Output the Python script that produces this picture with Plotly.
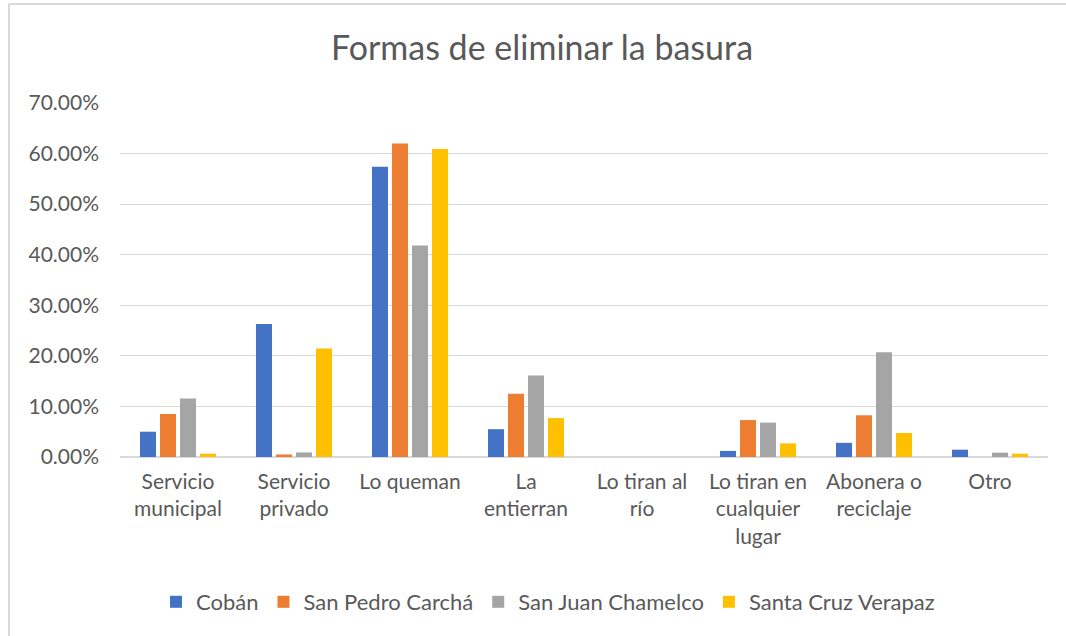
import plotly.graph_objects as go

categories = ["Servicio<br>municipal", "Servicio<br>privado", "Lo queman", "La<br>entierran",
              "Lo tiran al<br>río", "Lo tiran en<br>cualquier<br>lugar", "Abonera o<br>reciclaje", "Otro"]
coban = [0.050, 0.263, 0.574, 0.055, 0.0, 0.012, 0.028, 0.0145]
san_pedro = [0.085, 0.005, 0.620, 0.125, 0.0, 0.073, 0.0825, 0.0]
san_juan = [0.1155, 0.009, 0.418, 0.161, 0.0, 0.068, 0.207, 0.0086]
santa_cruz = [0.0066, 0.2145, 0.609, 0.077, 0.0, 0.027, 0.0475, 0.0066]
series_names = ["Cobán", "San Pedro Carchá", "San Juan Chamelco", "Santa Cruz Verapaz"]
colors = ["#4472C4", "#ED7D31", "#A5A5A5", "#FFC000"]

fig = go.Figure()
for name, vals, c in zip(series_names, [coban, san_pedro, san_juan, santa_cruz], colors):
    fig.add_trace(go.Bar(x=categories, y=vals, name=name, marker=dict(color=c, line=dict(width=0))))

font_fam = "Lato, 'Open Sans', sans-serif"
W, H = 1066, 636
l, r, t, b = 120, 18, 103, 179
pw, ph = W - l - r, H - t - b

bx0 = (9 - l) / pw
bx1 = (W + 40 - l) / pw
by0 = (H - b - (H + 40)) / ph
by1 = (H - b - 4) / ph
border = dict(color="#d9d9d9", width=2)

fig.update_layout(
    width=W, height=H,
    margin=dict(l=l, r=r, t=t, b=b),
    paper_bgcolor="white", plot_bgcolor="white",
    barmode="group", bargap=0.31, bargroupgap=0.2,
    title=dict(text="Formas de eliminar la basura", x=542 / W, xanchor="center",
               y=1 - 48 / H, yanchor="middle",
               font=dict(family=font_fam, size=34, color="#595959")),
    font=dict(family=font_fam, size=21, color="#595959"),
    legend=dict(orientation="h", x=(548 - l) / pw, xanchor="center", y=(H - b - 602) / ph,
                yanchor="middle", font=dict(size=22, color="#595959"),
                traceorder="normal"),
    yaxis=dict(range=[0, 0.7], dtick=0.1, tickformat=".2%", showgrid=True, gridcolor="#d9d9d9",
               gridwidth=1, zeroline=True, zerolinecolor="#d9d9d9", showline=False,
               ticks="", ticklabelstandoff=20, tickfont=dict(size=21, color="#595959")),
    xaxis=dict(showline=False, ticks="", tickangle=0, ticklabelstandoff=10,
               tickfont=dict(size=21, color="#595959")),
    shapes=[
        dict(type="line", xref="paper", yref="paper", x0=bx0, x1=bx1, y0=by1, y1=by1,
             line=border, layer="below"),
        dict(type="line", xref="paper", yref="paper", x0=bx0, x1=bx0, y0=by0, y1=by1,
             line=border, layer="below"),
    ],
)

fig.write_html("out.html", config={"displayModeBar": False},
               post_script="document.body.style.margin='0';document.body.style.overflow='hidden';")
